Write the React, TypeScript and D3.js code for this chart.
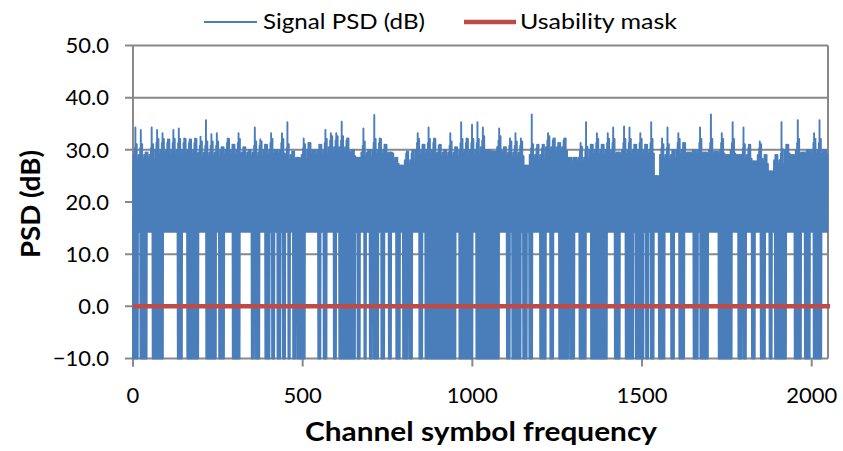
import React from "react";
import * as d3 from "d3";

// ---------- data ----------
const channelCount = 2048;
const binSize = 16; // channels per envelope reading
// highest PSD value reached in each 16-channel bin (dB)
const peakDb = [
  34.3, 33.8, 29.5, 34.3, 33.8, 33.2, 32, 33.8, 34.1, 32.2, 32, 32.2, 32.5, 35.7, 33, 33.2, 30.5, 32.2, 31, 33.2, 30.5, 30, 34.3, 32, 31,
  33.2, 30, 33.2, 35.3, 29.7, 28.5, 32.2, 31.3, 30, 31, 33.8, 33.2, 33.2, 35.4, 32.2, 30, 28.5, 34.1, 30, 36.7, 32.2, 31, 29.5, 28.5, 27,
  29.7, 30, 33.2, 31, 34.3, 32.2, 31, 30, 33.2, 30.5, 35.3, 32.2, 34.8, 35.3, 34.3, 30, 29.7, 34.1, 30.5, 32.2, 33.2, 32.2, 27, 36.8, 31, 31,
  33.2, 32.2, 31.3, 32.2, 28.5, 28.5, 31.3, 35.3, 31, 33.2, 31, 33.2, 34.3, 29.5, 34.5, 34.3, 31, 33.2, 31, 35.3, 25, 32.2, 34.3, 30, 33.2, 31.3,
  29.5, 30, 34.3, 29.5, 36.8, 29.7, 33.2, 29, 35.3, 29, 34.3, 31, 27.8, 31.6, 29, 25.9, 29, 35.3, 31, 29, 35.7, 29.5, 30, 33.2, 35.7, 30,
];
const bodySize = 64; // channels per body-top reading
// top of the solid body of the trace in each 64-channel segment (dB)
const bodyDb = [
  27.5, 28.5, 28.5, 28, 28.5, 28, 28.5, 27.5, 28.5, 29, 28, 28.5, 26.5, 28.5, 28, 28.5,
  29, 28, 27.5, 29, 27, 28.5, 28.5, 28.5, 27.5, 28.5, 28.5, 28.5, 27.5, 26.5, 28.5, 28.5,
];
// departures of the other high samples of a bin from the body top (dB)
const rippleDb = [1.5, -2.5, 2.8, 0, -1.2, 3.6, -3.5, 0.8];
const floorDb = 14.3; // noise floor of the trace
const dropDb = -10; // unusable channels fall to the bottom of the axis
// channel ranges where the PSD drops out
const dropouts: [number, number][] = [
  [0, 15], [21, 40], [58, 89], [131, 144], [160, 192], [215, 245], [254, 268], [294, 315], [350, 357], [362, 372],
  [389, 403], [410, 416], [425, 435], [442, 449], [457, 463], [472, 478], [484, 506], [545, 553], [562, 570], [592, 599],
  [607, 655], [661, 668], [681, 687], [698, 704], [710, 722], [732, 740], [754, 761], [776, 786], [796, 810], [816, 822],
  [844, 852], [861, 898], [900, 908], [911, 950], [962, 970], [973, 1000], [1011, 1031], [1032, 1079], [1102, 1111], [1117, 1143],
  [1150, 1160], [1168, 1176], [1199, 1216], [1229, 1239], [1255, 1275], [1278, 1282], [1288, 1300], [1315, 1334], [1349, 1396], [1420, 1435],
  [1452, 1474], [1481, 1504], [1511, 1518], [1526, 1535], [1550, 1567], [1585, 1594], [1609, 1624], [1652, 1665], [1672, 1694], [1726, 1765],
  [1784, 1794], [1799, 1806], [1824, 1832], [1849, 1863], [1875, 1883], [1891, 1924], [1950, 1969], [1979, 1995], [2006, 2028],
];
const maskDb = 0; // usability mask level
const yTicks = [-10, 0, 10, 20, 30, 40, 50];
const xTicks = [0, 500, 1000, 1500, 2000];
const seriesNames = ["Signal PSD (dB)", "Usability mask"];

// ---------- build the signal from the readings ----------
type Pt = { ch: number; v: number };
const signal: Pt[] = [];
for (let ch = 0; ch < channelCount; ch++) {
  const inDrop = dropouts.some(([a, b]) => ch >= a && ch <= b);
  let v: number;
  if (ch % 2 === 0) {
    v = inDrop ? dropDb : floorDb;
  } else {
    const bin = Math.floor(ch / binSize);
    const j = ((ch % binSize) - 1) / 2;
    const peak = peakDb[bin];
    const body = Math.min(bodyDb[Math.floor(ch / bodySize)], peak);
    v = j === 3 ? peak : Math.min(peak, body + rippleDb[j]);
  }
  signal.push({ ch, v });
}

const FONT = "Lato, 'Liberation Sans', Arial, sans-serif";
const BLUE = "#4A7EBB";
const RED = "#BE4B48";
const GRID = "#898989";

export default function App() {
  const left = 133, right = 828, top = 45.5, bottom = 358.5;
  const x = d3.scaleLinear().domain([0, channelCount]).range([left, right]);
  const y = d3.scaleLinear().domain([-10, 50]).range([bottom, top]);
  const line = d3
    .line<Pt>()
    .x((d) => x(d.ch))
    .y((d) => y(d.v));
  const fmt = d3.format(".1f");

  return (
    <svg
      width={843}
      height={451}
      style={{ position: "absolute", left: 0, top: 0, background: "#fff" }}
      fontFamily={FONT}
    >
      {/* grid lines + y ticks */}
      {yTicks.map((t) => (
        <line key={"g" + t} x1={left - 8} x2={right} y1={y(t)} y2={y(t)} stroke={GRID} strokeWidth={2} />
      ))}
      {/* right border */}
      <line x1={right} x2={right} y1={top} y2={bottom} stroke={GRID} strokeWidth={2} />
      {/* left axis */}
      <line x1={left} x2={left} y1={top} y2={bottom + 8} stroke={GRID} strokeWidth={2} />
      {xTicks.map((t) => (
        <line key={"xt" + t} x1={x(t)} x2={x(t)} y1={bottom} y2={bottom + 8} stroke={GRID} strokeWidth={2} />
      ))}

      {/* signal */}
      <path d={line(signal) || ""} fill="none" stroke={BLUE} strokeWidth={1.9} strokeLinejoin="round" />
      {/* usability mask */}
      <line x1={x(0)} x2={x(channelCount) + 2} y1={y(maskDb)} y2={y(maskDb)} stroke={RED} strokeWidth={4.5} />

      {/* y tick labels */}
      {yTicks.map((t) => (
        <text key={"yl" + t} x={109} y={y(t) + 7.8} textAnchor="end" fontSize={22} fill="#000">
          {fmt(t)}
        </text>
      ))}
      {/* x tick labels */}
      {xTicks.map((t) => (
        <text key={"xl" + t} x={x(t)} y={403} textAnchor="middle" fontSize={22} fill="#000">
          {t}
        </text>
      ))}

      {/* axis titles */}
      <text x={481} y={441} textAnchor="middle" fontSize={26} fontWeight="bold" fill="#000" textLength={352} lengthAdjust="spacingAndGlyphs">
        Channel symbol frequency
      </text>
      <text
        transform="translate(40,204) rotate(-90)"
        textAnchor="middle"
        fontSize={27}
        fontWeight="bold"
        fill="#000"
        textLength={108}
        lengthAdjust="spacingAndGlyphs"
      >
        PSD (dB)
      </text>

      {/* legend */}
      <line x1={204} x2={257} y1={22} y2={22} stroke={BLUE} strokeWidth={2.2} />
      <text x={263} y={29} fontSize={22} fill="#000" textLength={162} lengthAdjust="spacingAndGlyphs">
        {seriesNames[0]}
      </text>
      <line x1={464} x2={516} y1={22} y2={22} stroke={RED} strokeWidth={4.5} />
      <text x={520} y={29} fontSize={22} fill="#000" textLength={157} lengthAdjust="spacingAndGlyphs">
        {seriesNames[1]}
      </text>
    </svg>
  );
}
